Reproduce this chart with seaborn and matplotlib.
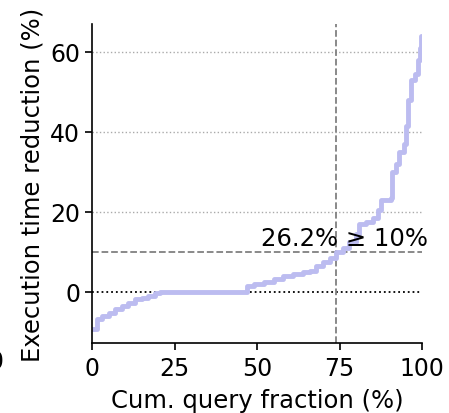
import matplotlib
matplotlib.use("Agg")
import matplotlib.pyplot as plt
import seaborn as sns
import pandas as pd

# Cumulative query fraction (%) at each step, and execution time reduction (%)
cum_fraction = [0, 1.5, 3, 5, 7, 9, 11, 13, 15, 17, 19, 20.5, 47, 49, 52, 55, 58, 61,
                64, 66, 68, 70, 72, 74, 76, 78, 80, 81, 83, 85, 86.5, 87.5, 90.5, 91,
                92, 93, 94.5, 95, 95.7, 96.5, 98, 98.8, 99.5, 99.8, 100]
reduction = [-9.3, -6.8, -6, -5.2, -4.3, -3.5, -2.8, -1.8, -1.5, -1, -0.4, 0, 1.5, 2,
             2.5, 3.2, 4, 4.5, 5, 5.3, 6.5, 7.5, 8.5, 10, 11, 12.5, 14.5, 17, 17.5,
             18.5, 20.5, 23, 23.5, 30, 32, 35, 37, 41.5, 48, 53, 54.5, 58, 61, 64, 64]
y_ticks = [0, 20, 40, 60]
x_ticks = [0, 25, 50, 75, 100]
threshold = 10
frac_at_threshold = 73.8
annotation = "26.2% ≥ 10%"

sns.set_style("ticks", {"text.color": "black", "axes.labelcolor": "black",
                        "xtick.color": "black", "ytick.color": "black",
                        "axes.edgecolor": "black"})
plt.rcParams['font.family'] = ['DejaVu Sans']

df = pd.DataFrame({"frac": cum_fraction, "red": reduction})

fig = plt.figure(figsize=(4.49, 4.14), dpi=100)
ax = fig.add_axes([0.205, 0.169, 0.735, 0.771])

for yv in [20, 40, 60]:
    ax.axhline(yv, color="#aaaaaa", linestyle=":", linewidth=1.0, zorder=1)
ax.axhline(0, color="black", linestyle=":", linewidth=1.3, zorder=1)
ax.axhline(threshold, color="#808080", linestyle="--", linewidth=1.3, zorder=1)
ax.axvline(frac_at_threshold, color="#808080", linestyle="--", linewidth=1.3, zorder=1)

sns.lineplot(data=df, x="frac", y="red", drawstyle="steps-post", color="#bcbcf0",
             linewidth=3.5, ax=ax, zorder=2)

ax.text(101.8, threshold + 0.5, annotation, ha="right", va="bottom", fontsize=17.5,
        color="black")

ax.set_xlim(0, 100)
ax.set_ylim(-12.8, 67)
ax.set_xticks(x_ticks)
ax.set_yticks(y_ticks)
ax.tick_params(labelsize=17, length=5, width=1.2, colors="black")
ax.tick_params(axis="x", pad=4)
ax.set_xlabel("Cum. query fraction (%)", fontsize=17.5, labelpad=6)
ax.set_ylabel("Execution time reduction (%)", fontsize=17.5, labelpad=4)
for s in ["left", "bottom"]:
    ax.spines[s].set_linewidth(1.2)
    ax.spines[s].set_color("black")
sns.despine(ax=ax)

fig.text(-0.008, 1 - 362 / 414, "0", ha="center", va="center", fontsize=17,
         color="black")

fig.savefig("out.png", dpi=100)
